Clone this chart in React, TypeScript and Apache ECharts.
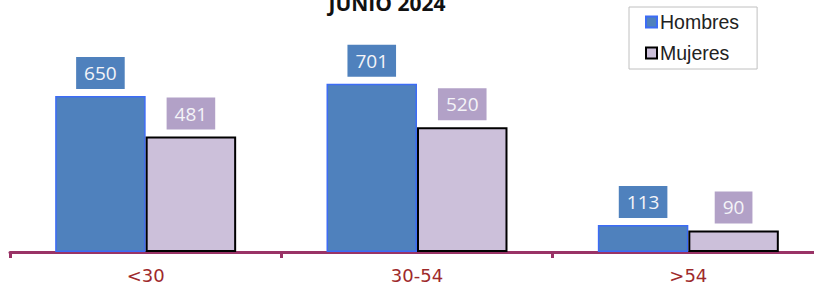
import React, { useEffect, useRef } from "react";
import * as echarts from "echarts";

const categories = ["<30", "30-54", ">54"];
const hombres = [650, 701, 113];
const mujeres = [481, 520, 90];
const titleText = "JUNIO 2024";

export default function App() {
  const ref = useRef<HTMLDivElement>(null);
  useEffect(() => {
    if (!ref.current) return;
    const chart = echarts.init(ref.current, null, { renderer: "svg" });
    const labelBase = {
      show: true,
      position: "top" as const,
      distance: 7,
      color: "#f4f4f8",
      fontSize: 19,
      fontFamily: "Open Sans",
      lineHeight: 24,
      padding: [4, 8, 4, 8],
    };
    chart.setOption({
      animation: false,
      graphic: [
        {
          type: "text",
          x: 387,
          y: 13,
          style: {
            text: titleText,
            fontSize: 21,
            fontWeight: "bold",
            fontFamily: "Open Sans",
            fill: "#111",
            textAlign: "center",
            textVerticalAlign: "bottom",
          },
        },
      ],
      legend: {
        left: 629,
        top: 7,
        orient: "vertical",
        borderColor: "#c0c0c0",
        borderWidth: 1,
        padding: [5, 18, 6, 16],
        itemWidth: 11,
        itemHeight: 11,
        itemGap: 11,
        icon: "rect",
        textStyle: { fontSize: 19.5, fontFamily: "Liberation Sans", color: "#222", padding: [0, 0, 0, -2] },
        data: ["Hombres", "Mujeres"],
      },
      grid: { left: 10, right: 10, top: 12, bottom: 39 },
      xAxis: {
        type: "category",
        data: categories,
        axisLine: { lineStyle: { color: "#993366", width: 3 } },
        axisTick: { show: true, length: 6, lineStyle: { color: "#993366", width: 3 } },
        axisLabel: { color: "#9e2a2b", fontSize: 18, fontFamily: "DejaVu Sans", margin: 14 },
      },
      yAxis: { type: "value", min: 0, max: 1000, show: false, splitLine: { show: false } },
      series: [
        {
          name: "Hombres",
          type: "bar",
          data: hombres,
          barGap: "0%",
          barCategoryGap: "33.3%",
          itemStyle: { color: "#4f81bd", borderColor: "#3d6cf5", borderWidth: 1.5 },
          label: { ...labelBase, backgroundColor: "#4f81bd" },
        },
        {
          name: "Mujeres",
          type: "bar",
          data: mujeres,
          barGap: "0%",
          barCategoryGap: "33.3%",
          itemStyle: { color: "#ccc0da", borderColor: "#000", borderWidth: 2 },
          label: { ...labelBase, backgroundColor: "#b2a1c7" },
        },
      ],
    });
    return () => chart.dispose();
  }, []);
  return (
    <div style={{ position: "absolute", left: 0, top: 0, width: 814, height: 291, overflow: "hidden", background: "#fff" }}>
      <div ref={ref} style={{ width: 834, height: 291 }} />
    </div>
  );
}
